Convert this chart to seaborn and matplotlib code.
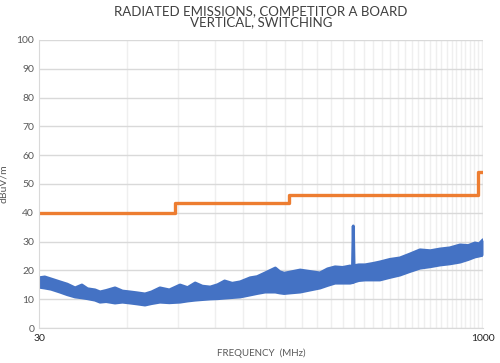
import matplotlib
matplotlib.use('Agg')
import matplotlib.pyplot as plt
import matplotlib.ticker as mticker
import numpy as np
import pandas as pd
import seaborn as sns

# emission trace, read as lower / upper edge of the noisy band
freq = [30, 31.4, 33, 35.4, 37.5, 39.9, 42.1, 44, 46.7, 48.6, 51, 54.7, 58, 61.6, 65,
        69.3, 73, 78, 84, 91.4, 97, 103, 109, 116, 123, 130, 138, 147, 159, 168, 179,
        194, 201, 208, 218, 236, 255, 276, 293, 311, 330, 350, 357, 359, 361, 375, 394,
        420, 443, 480, 519, 560, 608, 660, 712, 770, 834, 890, 939, 970, 1000]
upper = [17.4, 17.7, 17.0, 16.0, 15.2, 13.9, 14.9, 13.6, 13.2, 12.5, 13.0, 13.9, 12.8,
         12.5, 12.2, 11.8, 12.5, 13.9, 13.2, 14.9, 14.0, 15.6, 14.5, 14.2, 15.0, 16.3,
         15.5, 16.0, 17.4, 17.8, 19.1, 20.8, 19.5, 19.0, 19.4, 20.1, 19.6, 19.1, 20.5,
         21.2, 21.0, 21.5, 21.3, 35.4, 21.6, 21.9, 21.9, 22.4, 22.9, 23.8, 24.3, 25.6,
         27.1, 26.8, 27.4, 27.8, 28.8, 28.6, 29.5, 29.2, 30.6]
lower = [14.2, 13.9, 13.5, 12.5, 11.6, 10.8, 10.5, 10.2, 9.7, 9.0, 9.2, 8.7, 9.0, 8.7,
         8.4, 8.0, 8.5, 9.0, 8.8, 9.0, 9.4, 9.7, 9.9, 10.1, 10.2, 10.4, 10.6, 10.8, 11.5,
         12.0, 12.5, 12.5, 12.2, 12.0, 12.2, 12.5, 13.2, 13.9, 14.8, 15.6, 15.6, 15.6,
         15.8, 15.8, 16.0, 16.5, 16.7, 16.7, 16.7, 17.6, 18.4, 19.6, 20.8, 21.3, 21.9,
         22.3, 22.9, 23.8, 24.7, 25.0, 25.3]

# limit line
limit_freq = [30, 88, 216, 960, 1000]
limit_db = [40, 43.5, 46, 54, 54]

blue = '#4472C4'
orange = '#ED7D31'
grey = '#595959'

sns.set_style('white')
plt.rcParams['font.family'] = ['Lato', 'DejaVu Sans']

fig = plt.figure(figsize=(5, 3.63), dpi=100)
ax = fig.add_axes([0.078, 0.0964, 0.888, 0.7936])

emis = pd.DataFrame({'freq': freq, 'lower': lower, 'upper': upper})
ax.fill_between(emis['freq'], emis['lower'], emis['upper'], color=blue, lw=0)
sns.lineplot(data=emis, x='freq', y='upper', color=blue, lw=2.2, ax=ax)
sns.lineplot(data=emis, x='freq', y='lower', color=blue, lw=2.2, ax=ax)

lim = pd.DataFrame({'freq': limit_freq, 'db': limit_db})
sns.lineplot(data=lim, x='freq', y='db', color=orange, lw=2.4, drawstyle='steps-post', ax=ax)

ax.set_xscale('log')
ax.set_xlim(30, 1000)
ax.set_ylim(0, 100)
ax.xaxis.set_major_locator(mticker.FixedLocator([30, 1000]))
ax.xaxis.set_major_formatter(mticker.FixedFormatter(['30', '1000']))
ax.xaxis.set_minor_locator(mticker.FixedLocator([30 * k for k in range(2, 34)]))
ax.xaxis.set_minor_formatter(mticker.NullFormatter())
ax.set_yticks(range(0, 101, 10))

ax.grid(axis='y', color='#d9d9d9', lw=1)
ax.grid(axis='x', which='minor', color='#efefef', lw=1)
ax.set_axisbelow(True)
for s in ['top', 'right']:
    ax.spines[s].set_visible(False)
ax.spines['left'].set_color('#d9d9d9')
ax.spines['bottom'].set_color('#d9d9d9')
ax.tick_params(axis='both', which='both', length=0, colors=grey, labelsize=7.5)
ax.tick_params(axis='x', pad=4)
for lbl in ax.get_xticklabels():
    lbl.set_color('#222222')

ax.set_xlabel('FREQUENCY  (MHz)', fontsize=7, color=grey, labelpad=4)
ax.set_ylabel('dBuV/m', fontsize=7.5, color=grey, labelpad=6)
ax.set_title('RADIATED EMISSIONS, COMPETITOR A BOARD\nVERTICAL, SWITCHING',
             fontsize=9.5, color='#404040', linespacing=0.9, pad=10)

fig.savefig('out.png', dpi=100)
